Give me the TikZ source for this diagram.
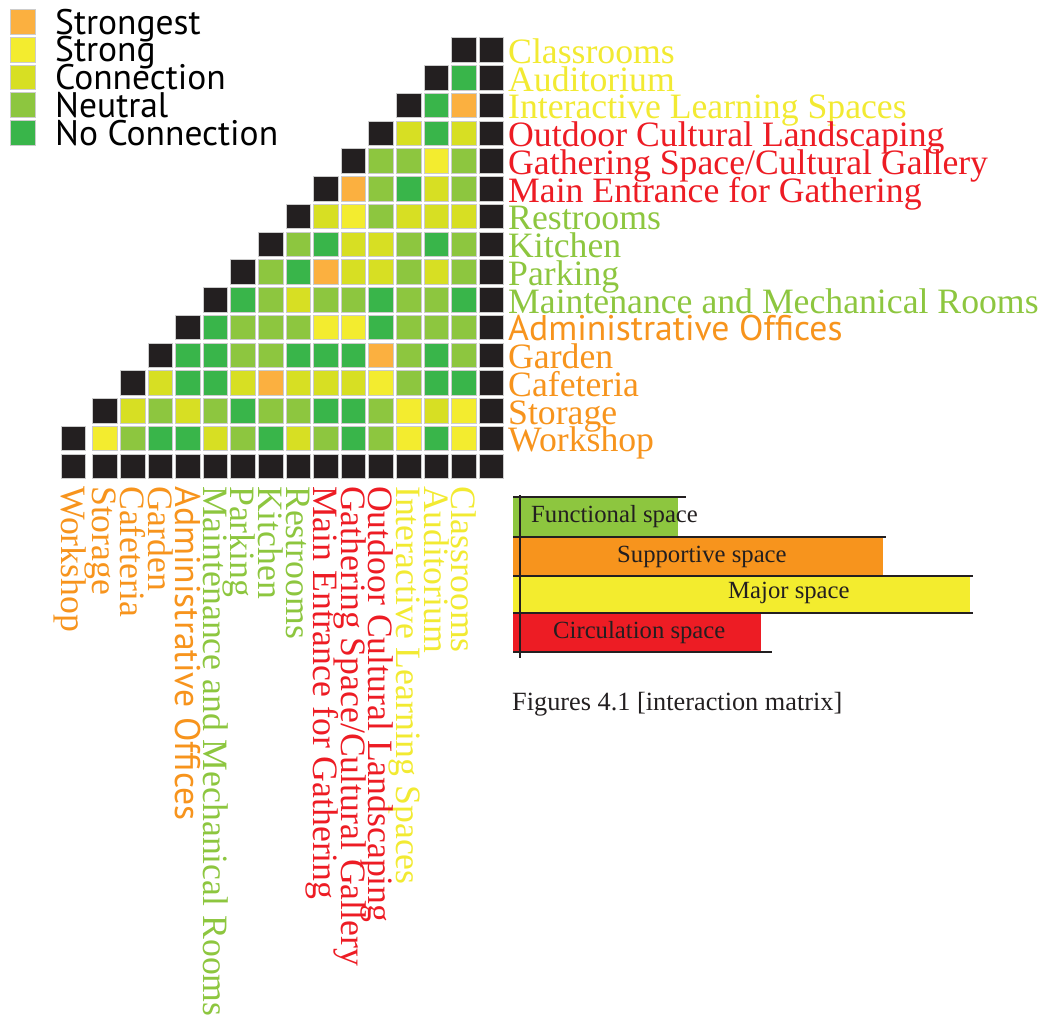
\documentclass[tikz,border=0pt]{standalone}
\usepackage{fontspec}
\setmainfont{Liberation Serif}
\setsansfont{PT Sans}
\definecolor{cO}{HTML}{FBB040}
\definecolor{cY}{HTML}{F3EC2F}
\definecolor{cC}{HTML}{D7DF23}
\definecolor{cN}{HTML}{8DC63F}
\definecolor{cG}{HTML}{39B54A}
\definecolor{cK}{HTML}{231F20}
\definecolor{labyel}{HTML}{F2EA32}
\definecolor{labred}{HTML}{ED1C24}
\definecolor{labgrn}{HTML}{8DC63F}
\definecolor{laborg}{HTML}{F7941D}
\definecolor{baryel}{HTML}{F3EC2E}
\begin{document}
\begin{tikzpicture}[x=1pt,y=-1pt,
  declare function={colx(\c)=(\c==0)*60.7+(\c>0)*(92.3+(\c-1)*27.6);},
  cell/.style={draw=black!20,line width=0.7pt,minimum size=24.6pt,inner sep=0pt,anchor=north west},
  rowlab/.style={anchor=base west,inner sep=0pt,font=\fontsize{35.7}{35.7}\selectfont},
  collab/.style={rowlab,rotate=-90},
  keytext/.style={anchor=base west,inner sep=0pt,font=\sffamily\fontsize{35.5}{35.5}\selectfont},
  barline/.style={draw=cK,line width=1.4pt},
  bartext/.style={anchor=base west,inner sep=0pt,text=cK,font=\fontsize{24.7}{24.7}\selectfont}]
  \useasboundingbox (0,0) rectangle (1048,1016);
  \foreach \k/\t [count=\i from 0] in {cO/Strongest,cY/Strong,cC/Connection,cN/Neutral,cG/No Connection} {
    \node[cell,fill=\k] (key-\i) at (10,9.3+\i*27.7) {};
    \node[keytext] (keylab-\i) at (55,34.3+\i*27.7) {\t};
  }
  \foreach \r/\lab/\col/\cells in {
      0/Classrooms/labyel/{},
      1/Auditorium/labyel/{G},
      2/Interactive Learning Spaces/labyel/{G,O},
      3/Outdoor Cultural Landscaping/labred/{C,G,C},
      4/{Gathering Space/Cultural Gallery}/labred/{N,N,Y,N},
      5/Main Entrance for Gathering/labred/{O,N,G,C,N},
      6/Restrooms/labgrn/{C,Y,N,C,C,C},
      7/Kitchen/labgrn/{N,G,C,C,N,G,N},
      8/Parking/labgrn/{N,G,O,C,C,N,C,N},
      9/Maintenance and Mechanical Rooms/labgrn/{G,N,C,N,N,G,N,N,G},
      10/Administrative Offices/laborg/{G,N,N,N,Y,Y,G,N,N,N},
      11/Garden/laborg/{G,G,N,N,G,G,G,O,N,G,N},
      12/Cafeteria/laborg/{C,G,G,C,O,C,C,C,Y,N,G,G},
      13/Storage/laborg/{C,N,C,N,G,N,N,G,G,N,Y,C,Y},
      14/Workshop/laborg/{Y,N,G,G,C,N,G,C,N,G,N,Y,G,Y}} {
    \pgfmathtruncatemacro\d{14-\r}
    \pgfmathsetmacro\ry{37.3+\r*27.75}
    \node[cell,fill=cK] (m-\r-\d) at ({colx(\d)},\ry) {};
    \node[cell,fill=cK] (m-\r-15) at ({colx(15)},\ry) {};
    \ifnum\r>0
      \foreach \k [count=\j] in \cells {
        \pgfmathtruncatemacro\c{\d+\j}
        \node[cell,fill=c\k] (m-\r-\c) at ({colx(\c)},\ry) {};
      }
    \fi
    \node[rowlab,text=\col] (row-\r) at (508,\ry+26) {\ifnum\r=10 \sffamily\fi\lab};
    \node[collab,text=\col] (col-\r) at ({colx(\d)+0.5},486) {\ifnum\r=10 \sffamily\fi\lab};
  }
  \foreach \c in {0,...,15}
    \node[cell,fill=cK] (m-15-\c) at ({colx(\c)},453.5) {};
  \fill[labgrn] (513,497) rectangle (678,536.5);
  \fill[laborg] (513,537) rectangle (883,575.5);
  \fill[baryel] (513,576) rectangle (970,613);
  \fill[labred] (513,613) rectangle (761,652);
  \draw[barline] (513,497) -- (686,497);
  \draw[barline] (513,537) -- (886,537);
  \draw[barline] (513,576) -- (973,576);
  \draw[barline] (513,613) -- (973,613);
  \draw[barline] (513,652) -- (772,652);
  \draw[barline] (520,495) -- (520,658);
  \node[bartext] (fun) at (531,522) {Functional space};
  \node[bartext] (sup) at (617,562) {Supportive space};
  \node[bartext] (maj) at (728,598) {Major space};
  \node[bartext] (cir) at (553,638) {Circulation space};
  \node[bartext,font=\fontsize{26.3}{26.3}\selectfont] (cap) at (512,710) {Figures 4.1 [interaction matrix]};
\end{tikzpicture}
\end{document}
